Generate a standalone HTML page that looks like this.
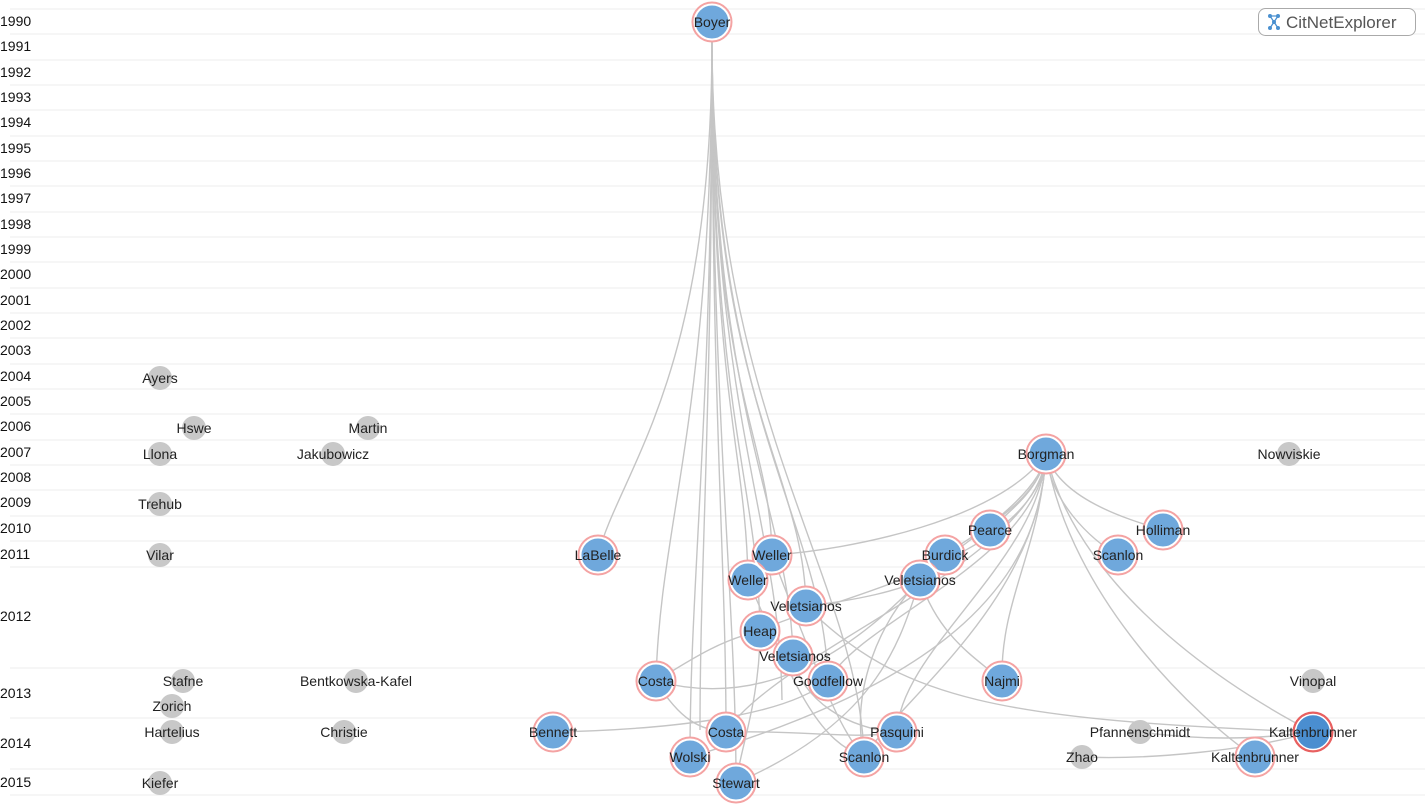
<!DOCTYPE html>
<html><head><meta charset="utf-8"><style>
html,body{margin:0;padding:0;background:#fff;width:1425px;height:804px;overflow:hidden}
svg{display:block;font-family:"Liberation Sans",Helvetica,sans-serif}
.y{font-size:14px;fill:#111}
.l{font-size:14px;fill:#222;text-anchor:middle;dominant-baseline:central}
.e{fill:none;stroke:#bbb;stroke-width:1.4;opacity:.85}
</style></head><body>
<svg width="1425" height="804" viewBox="0 0 1425 804">
<g stroke="#eee" stroke-width="1">
<line x1="10" y1="9" x2="1425" y2="9"/><line x1="10" y1="34" x2="1425" y2="34"/><line x1="10" y1="60" x2="1425" y2="60"/><line x1="10" y1="85" x2="1425" y2="85"/><line x1="10" y1="110" x2="1425" y2="110"/><line x1="10" y1="136" x2="1425" y2="136"/><line x1="10" y1="161" x2="1425" y2="161"/><line x1="10" y1="186" x2="1425" y2="186"/><line x1="10" y1="212" x2="1425" y2="212"/><line x1="10" y1="237" x2="1425" y2="237"/><line x1="10" y1="262" x2="1425" y2="262"/><line x1="10" y1="288" x2="1425" y2="288"/><line x1="10" y1="313" x2="1425" y2="313"/><line x1="10" y1="338" x2="1425" y2="338"/><line x1="10" y1="364" x2="1425" y2="364"/><line x1="10" y1="389" x2="1425" y2="389"/><line x1="10" y1="414" x2="1425" y2="414"/><line x1="10" y1="440" x2="1425" y2="440"/><line x1="10" y1="465" x2="1425" y2="465"/><line x1="10" y1="490" x2="1425" y2="490"/><line x1="10" y1="516" x2="1425" y2="516"/><line x1="10" y1="541" x2="1425" y2="541"/><line x1="10" y1="567" x2="1425" y2="567"/><line x1="10" y1="668" x2="1425" y2="668"/><line x1="10" y1="718" x2="1425" y2="718"/><line x1="10" y1="769" x2="1425" y2="769"/><line x1="10" y1="795" x2="1425" y2="795"/>
</g>
<g class="y">
<text x="0" y="26">1990</text><text x="0" y="51">1991</text><text x="0" y="77">1992</text><text x="0" y="102">1993</text><text x="0" y="127">1994</text><text x="0" y="153">1995</text><text x="0" y="178">1996</text><text x="0" y="203">1997</text><text x="0" y="229">1998</text><text x="0" y="254">1999</text><text x="0" y="279">2000</text><text x="0" y="305">2001</text><text x="0" y="330">2002</text><text x="0" y="355">2003</text><text x="0" y="381">2004</text><text x="0" y="406">2005</text><text x="0" y="431">2006</text><text x="0" y="457">2007</text><text x="0" y="482">2008</text><text x="0" y="507">2009</text><text x="0" y="533">2010</text><text x="0" y="559">2011</text><text x="0" y="621">2012</text><text x="0" y="698">2013</text><text x="0" y="748">2014</text><text x="0" y="787">2015</text>
</g>
<g class="e">
<path d="M712,40 C712,380 620,470 598,555"/>
<path d="M712,40 C712,400 770,430 772,555"/>
<path d="M712,40 C712,400 746,450 748,580"/>
<path d="M712,40 C712,400 804,470 806,606"/>
<path d="M712,40 C712,420 758,480 760,631"/>
<path d="M712,40 C712,420 790,510 793,656"/>
<path d="M712,40 C712,420 660,520 656,681"/>
<path d="M712,40 C712,420 726,560 726,732"/>
<path d="M712,40 C712,420 690,580 690,757"/>
<path d="M712,40 C712,420 736,600 736,783"/>
<path d="M712,40 C712,420 824,520 828,681"/>
<path d="M712,40 C712,420 860,580 864,757"/>
<path d="M712,40 C712,420 700,560 700,730"/>
<path d="M712,40 C712,420 780,520 782,700"/>
<path d="M1046,454 C1040,490 1010,510 990,530"/>
<path d="M1046,454 C1040,500 980,530 945,555"/>
<path d="M1046,454 C1040,500 950,550 920,580"/>
<path d="M1046,454 C1050,500 1090,540 1118,555"/>
<path d="M1046,454 C1060,500 1130,520 1163,530"/>
<path d="M1046,454 C1040,550 1000,600 1002,681"/>
<path d="M1046,454 C1070,600 1200,720 1255,757"/>
<path d="M1046,454 C1080,600 1250,700 1313,732"/>
<path d="M1046,454 C1040,560 900,650 897,732"/>
<path d="M1046,454 C1040,560 780,650 726,732"/>
<path d="M1046,454 C1040,560 860,620 828,681"/>
<path d="M1046,454 C1000,520 850,550 772,555"/>
<path d="M1046,454 C1040,560 820,600 760,631"/>
<path d="M1046,454 C1040,600 900,700 864,757"/>
<path d="M1046,454 C1040,580 950,680 690,757"/>
<path d="M920,580 C880,620 850,690 864,757"/>
<path d="M920,580 C900,640 880,720 736,783"/>
<path d="M920,580 C940,640 980,660 1002,681"/>
<path d="M806,606 C860,600 900,590 920,580"/>
<path d="M806,606 C900,700 1000,720 1313,732"/>
<path d="M772,555 C820,680 840,730 864,757"/>
<path d="M748,580 C800,700 820,740 864,757"/>
<path d="M656,681 C690,660 720,640 760,631"/>
<path d="M656,681 C680,720 700,730 726,732"/>
<path d="M553,732 C650,730 780,720 828,681"/>
<path d="M793,656 C800,700 850,730 897,732"/>
<path d="M760,631 C760,700 740,750 736,783"/>
<path d="M726,732 C800,730 860,740 897,732"/>
<path d="M1082,757 C1150,760 1250,750 1313,732"/>
<path d="M1140,732 C1200,740 1250,740 1313,732"/>
<path d="M656,681 C800,720 900,600 945,555"/>
</g>
<g fill="#c8c8c8">
<circle cx="160" cy="378" r="12"/><circle cx="194" cy="428" r="12"/><circle cx="368" cy="428" r="12"/><circle cx="160" cy="454" r="12"/><circle cx="333" cy="454" r="12"/><circle cx="160" cy="504" r="12"/><circle cx="160" cy="555" r="12"/><circle cx="183" cy="681" r="12"/><circle cx="172" cy="706" r="12"/><circle cx="172" cy="732" r="12"/><circle cx="160" cy="783" r="12"/><circle cx="356" cy="681" r="12"/><circle cx="344" cy="732" r="12"/><circle cx="1289" cy="454" r="12"/><circle cx="1313" cy="681" r="12"/><circle cx="1140" cy="732" r="12"/><circle cx="1082" cy="757" r="12"/>
</g>
<g fill="#6fa8dc" stroke="#f4a3a3" stroke-width="3">
<circle cx="712" cy="22" r="19"/><circle cx="598" cy="555" r="19"/><circle cx="772" cy="555" r="19"/><circle cx="748" cy="580" r="19"/><circle cx="806" cy="606" r="19"/><circle cx="760" cy="631" r="19"/><circle cx="793" cy="656" r="19"/><circle cx="656" cy="681" r="19"/><circle cx="828" cy="681" r="19"/><circle cx="726" cy="732" r="19"/><circle cx="690" cy="757" r="19"/><circle cx="736" cy="783" r="19"/><circle cx="864" cy="757" r="19"/><circle cx="897" cy="732" r="19"/><circle cx="553" cy="732" r="19"/><circle cx="1046" cy="454" r="19"/><circle cx="990" cy="530" r="19"/><circle cx="945" cy="555" r="19"/><circle cx="920" cy="580" r="19"/><circle cx="1118" cy="555" r="19"/><circle cx="1163" cy="530" r="19"/><circle cx="1002" cy="681" r="19"/><circle cx="1255" cy="757" r="19"/>
</g>
<g fill="none" stroke="#fff" stroke-width="2">
<circle cx="712" cy="22" r="17.5"/><circle cx="598" cy="555" r="17.5"/><circle cx="772" cy="555" r="17.5"/><circle cx="748" cy="580" r="17.5"/><circle cx="806" cy="606" r="17.5"/><circle cx="760" cy="631" r="17.5"/><circle cx="793" cy="656" r="17.5"/><circle cx="656" cy="681" r="17.5"/><circle cx="828" cy="681" r="17.5"/><circle cx="726" cy="732" r="17.5"/><circle cx="690" cy="757" r="17.5"/><circle cx="736" cy="783" r="17.5"/><circle cx="864" cy="757" r="17.5"/><circle cx="897" cy="732" r="17.5"/><circle cx="553" cy="732" r="17.5"/><circle cx="1046" cy="454" r="17.5"/><circle cx="990" cy="530" r="17.5"/><circle cx="945" cy="555" r="17.5"/><circle cx="920" cy="580" r="17.5"/><circle cx="1118" cy="555" r="17.5"/><circle cx="1163" cy="530" r="17.5"/><circle cx="1002" cy="681" r="17.5"/><circle cx="1255" cy="757" r="17.5"/>
</g>
<circle cx="1313" cy="732" r="19" fill="#4a8ed0" stroke="#e86060" stroke-width="3"/>
<circle cx="1313" cy="732" r="17.5" fill="none" stroke="#fff" stroke-width="1.5"/>
<g class="l">
<text x="712" y="22">Boyer</text><text x="598" y="555">LaBelle</text><text x="772" y="555">Weller</text><text x="748" y="580">Weller</text><text x="806" y="606">Veletsianos</text><text x="760" y="631">Heap</text><text x="795" y="656">Veletsianos</text><text x="656" y="681">Costa</text><text x="828" y="681">Goodfellow</text><text x="726" y="732">Costa</text><text x="690" y="757">Wolski</text><text x="736" y="783">Stewart</text><text x="864" y="757">Scanlon</text><text x="897" y="732">Pasquini</text><text x="553" y="732">Bennett</text><text x="1046" y="454">Borgman</text><text x="990" y="530">Pearce</text><text x="945" y="555">Burdick</text><text x="920" y="580">Veletsianos</text><text x="1118" y="555">Scanlon</text><text x="1163" y="530">Holliman</text><text x="1002" y="681">Najmi</text><text x="1255" y="757">Kaltenbrunner</text><text x="1313" y="732">Kaltenbrunner</text>
<text x="160" y="378">Ayers</text><text x="194" y="428">Hswe</text><text x="368" y="428">Martin</text><text x="160" y="454">Llona</text><text x="333" y="454">Jakubowicz</text><text x="160" y="504">Trehub</text><text x="160" y="555">Vilar</text><text x="183" y="681">Stafne</text><text x="172" y="706">Zorich</text><text x="172" y="732">Hartelius</text><text x="160" y="783">Kiefer</text><text x="356" y="681">Bentkowska-Kafel</text><text x="344" y="732">Christie</text><text x="1289" y="454">Nowviskie</text><text x="1313" y="681">Vinopal</text><text x="1140" y="732">Pfannenschmidt</text><text x="1082" y="757">Zhao</text>
</g>
<rect x="1258.5" y="8.5" width="157" height="27" rx="7" fill="#fff" stroke="#aaa"/>
<g stroke="#4a90d0" stroke-width="1.3" fill="none"><path d="M1270,16 L1278,28 M1278,16 L1270,28 M1270,16 L1278,16"/></g>
<g fill="#4a90d0"><circle cx="1270" cy="16" r="2"/><circle cx="1278" cy="16" r="2"/><circle cx="1274" cy="22" r="2"/><circle cx="1270" cy="28" r="2"/><circle cx="1278" cy="28" r="2"/></g>
<text x="1286" y="28" font-size="17" fill="#555">CitNetExplorer</text>
</svg>
</body></html>
